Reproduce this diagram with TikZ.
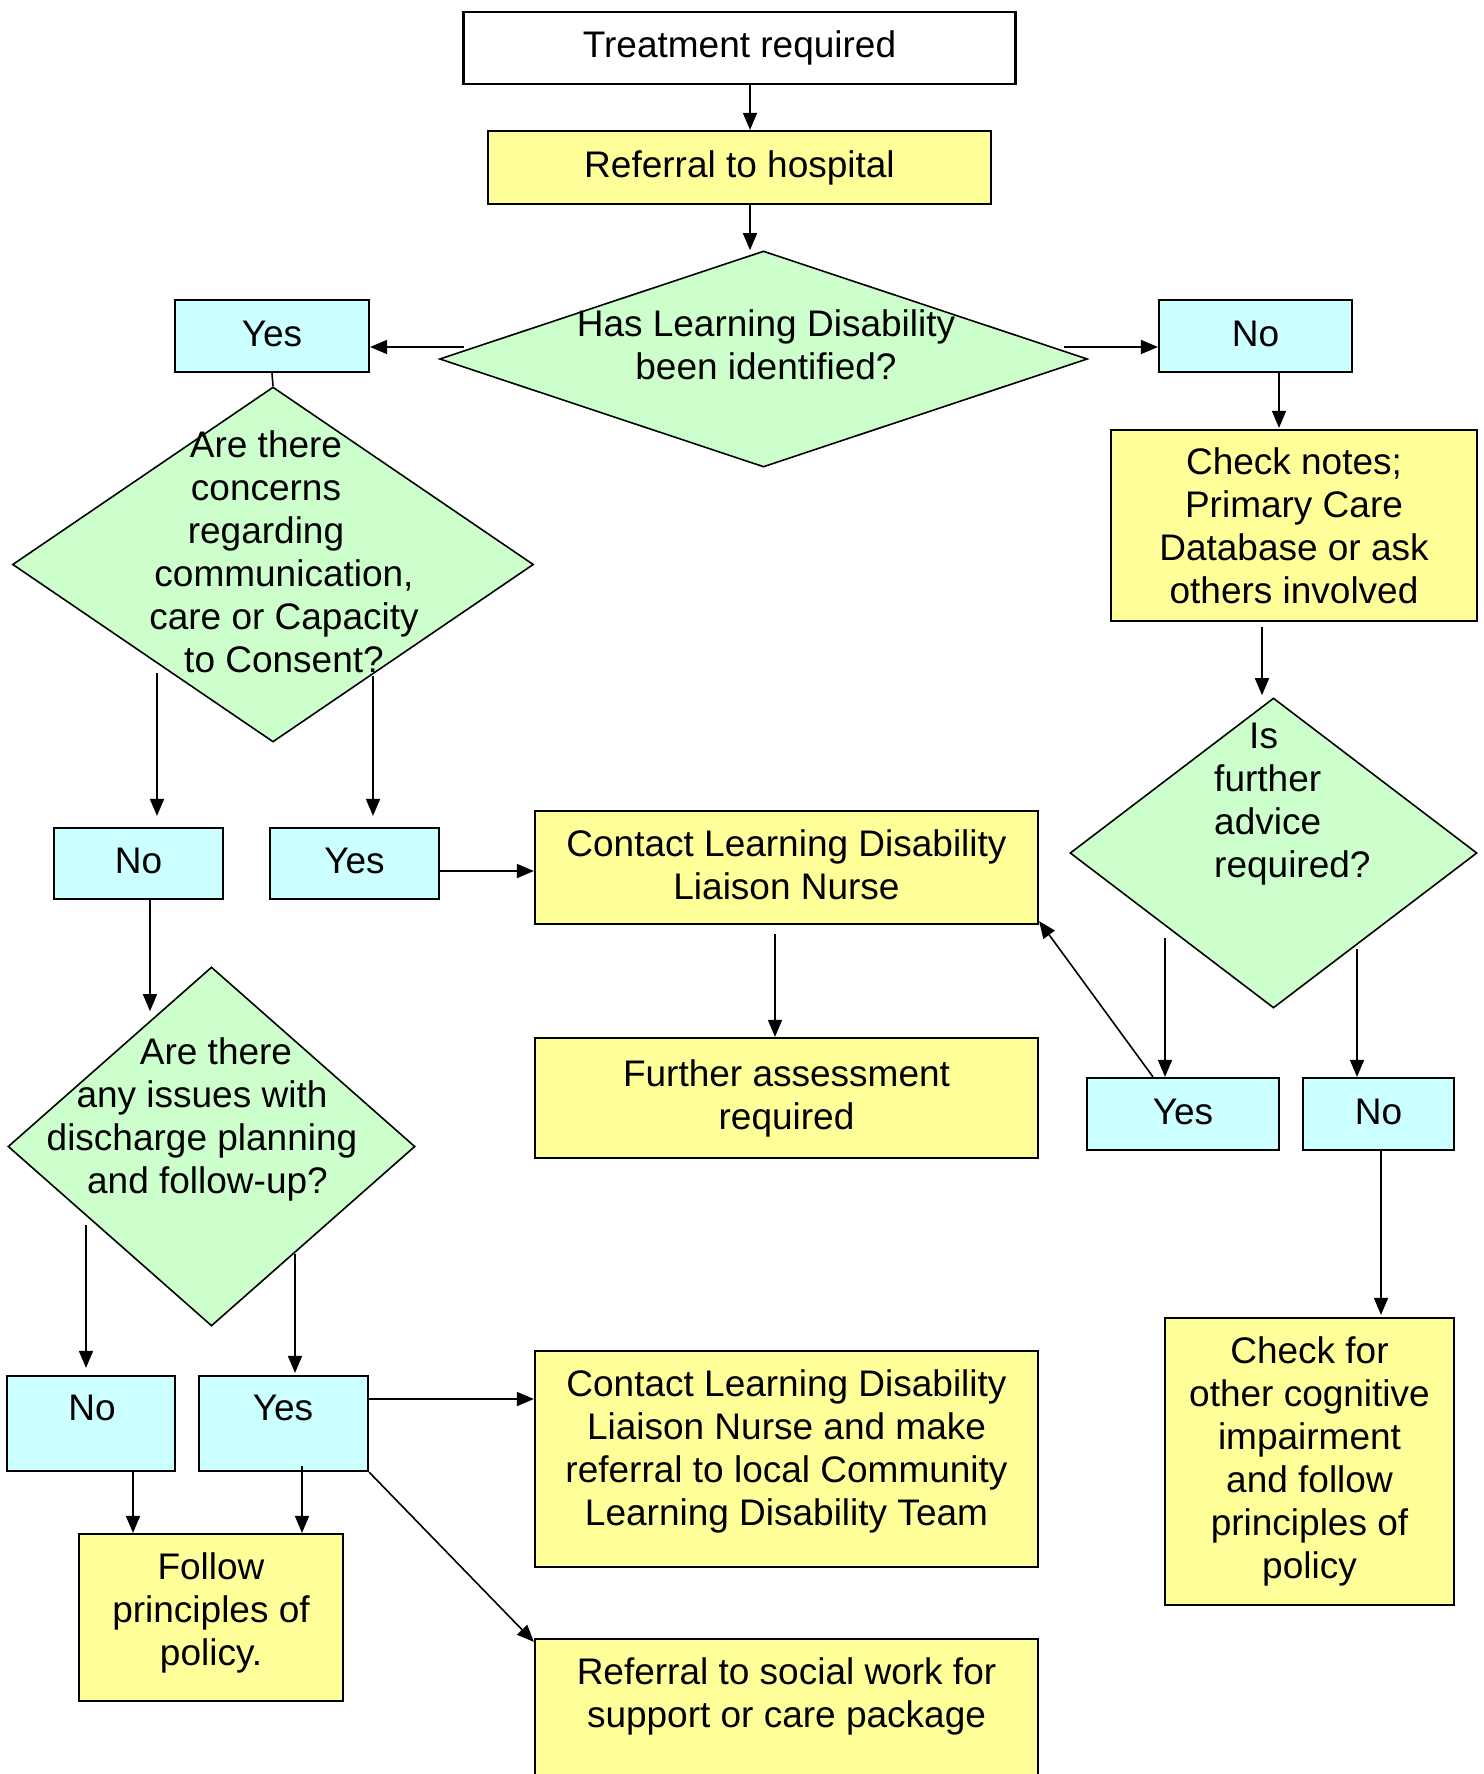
\documentclass[tikz,border=0pt]{standalone}
\usepackage{fontspec}
\setmainfont{Liberation Sans}
\usetikzlibrary{shapes.geometric,arrows.meta,calc}
\definecolor{boxyellow}{HTML}{FFFF99}
\definecolor{boxcyan}{HTML}{CCFFFF}
\definecolor{boxgreen}{HTML}{CCFFCC}
\begin{document}
\begin{tikzpicture}[x=1pt,y=-1pt,
  font=\fontsize{37}{43}\selectfont,
  boxbase/.style={rectangle, draw, line width=2.2pt, inner sep=0pt, align=center},
  startbox/.style={boxbase, fill=white},
  action/.style={boxbase, fill=boxyellow},
  answer/.style={boxbase, fill=boxcyan, text height=27pt, text depth=7pt},
  decision/.style={diamond, draw, line width=1.6pt, fill=boxgreen, inner sep=0pt},
  wording/.style={inner sep=0pt, align=center},
  arr/.style={-{Triangle[length=17pt,width=14pt]}, line width=1.6pt},
  joinline/.style={line width=1.6pt}]

\useasboundingbox (0,0) rectangle (1483,1774);
\clip (0,0) rectangle (1483,1774);

% top of the flow
\node[startbox, minimum width=552pt, minimum height=72pt] (treat) at (739.5,48) {Treatment required};
\node[action, minimum width=503pt, minimum height=73pt] (refer) at (739.5,167.5) {Referral to hospital};
\node[decision, minimum width=648pt, minimum height=216pt] (d1) at (763.5,359) {};
\node[wording] (q1) at (766,345) {Has Learning Disability\\been identified?};
\node[answer, minimum width=194pt, minimum height=72pt] (yes1) at (272,336) {Yes};
\node[answer, minimum width=193pt, minimum height=72pt] (no1) at (1255.5,336) {No};

% left branch: concerns
\node[decision, minimum width=521pt, minimum height=355pt] (d2) at (273,564.5) {};
\node[wording] (q2) at (284,552) {Are there\hbox to 36pt{}\\concerns\hbox to 36pt{}\\regarding\hbox to 36pt{}\\communication,\\care or Capacity\\to Consent?};
\node[answer, minimum width=169pt, minimum height=71pt] (no2) at (138.5,863.5) {No};
\node[answer, minimum width=169pt, minimum height=71pt] (yes2) at (354.5,863.5) {Yes};
\node[action, minimum width=503pt, minimum height=113pt] (contact1) at (786.5,867.5) {};
\node[wording] (contact1t) at (786.5,865) {Contact Learning Disability\\Liaison Nurse};
\node[action, minimum width=503pt, minimum height=120pt] (further) at (786.5,1098) {Further assessment\\required};

% left branch: discharge planning
\node[decision, minimum width=407pt, minimum height=359pt] (d3) at (211.5,1146.5) {};
\node[wording] (q3) at (202,1119) {\hbox to 28pt{}Are there\\any issues with\\discharge planning\\\hbox to 11pt{}and follow-up?};
\node[answer, minimum width=168pt, minimum height=95pt] (no3) at (91,1423.5) {};
\node[wording] (no3t) at (92,1408) {No};
\node[answer, minimum width=169pt, minimum height=95pt] (yes3) at (283.5,1423.5) {};
\node[wording] (yes3t) at (283,1408) {Yes};
\node[action, minimum width=264pt, minimum height=167pt] (follow) at (211,1617.5) {};
\node[wording] (followt) at (211,1613) {Follow\\principles of\\policy.};
\node[action, minimum width=503pt, minimum height=216pt] (contact2) at (786.5,1459) {};
\node[wording] (contact2t) at (786.5,1451) {Contact Learning Disability\\Liaison Nurse and make\\referral to local Community\\Learning Disability Team};
\node[action, minimum width=503pt, minimum height=216pt] (social) at (786.5,1747) {};
\node[wording] (socialt) at (786.5,1696) {Referral to social work for\\support or care package};

% right branch
\node[action, minimum width=366pt, minimum height=191pt] (checknotes) at (1294,525.5) {Check notes;\\Primary Care\\Database or ask\\others involved};
\node[decision, minimum width=407pt, minimum height=310pt] (d4) at (1273.5,853) {};
\node[wording, anchor=west, align=left] (q4) at (1214,804) {\hbox to 35pt{}Is\\further\\advice\\required?};
\node[answer, minimum width=192pt, minimum height=72pt] (yes4) at (1183,1114) {Yes};
\node[answer, minimum width=151pt, minimum height=72pt] (no4) at (1378.5,1114) {No};
\node[action, minimum width=289pt, minimum height=287pt] (checkother) at (1309.5,1461.5) {Check for\\other cognitive\\impairment\\and follow\\principles of\\policy};

% connectors
\draw[arr] ($(treat.south)+(10.5,0)$) -- ($(refer.north)+(10.5,0)$);
\draw[arr] ($(refer.south)+(10.5,0)$) -- ($(d1.north)+(-13.5,0)$);
\draw[arr] ($(d1.west)+(25,-12)$) -- ($(yes1.east)+(0,11)$);
\draw[arr] ($(d1.east)+(-24,-12)$) -- ($(no1.west)+(0,11)$);
\draw[joinline] (yes1.south) -- (d2.north);
\draw[arr] ($(d2.south)+(-116,-70)$) -- ($(no2.north)+(18.5,-11)$);
\draw[arr] ($(d2.south)+(100,-67)$) -- ($(yes2.north)+(18.5,-11)$);
\draw[arr] ($(yes2.east)+(0,7.5)$) -- ($(contact1.west)+(0,3.5)$);
\draw[arr] ($(contact1.south)+(-11.5,9)$) -- ($(further.north)+(-11.5,0)$);
\draw[arr] ($(no2.south)+(11.5,0)$) -- ($(d3.north)+(-61.5,45)$);
\draw[arr] ($(d3.south)+(-125.5,-102)$) -- ($(no3.north)+(-5,-7)$);
\draw[arr] ($(d3.south)+(83.5,-73)$) -- ($(yes3.north)+(11.5,-2)$);
\draw[arr] ($(yes3.east)+(0,-24.5)$) -- ($(contact2.west)+(0,-60)$);
\draw[arr] (yes3.south east) -- ($(social.north west)+(0,4)$);
\draw[arr] ($(no3.south)+(42,0)$) -- ($(follow.north)+(-78,0)$);
\draw[arr] ($(yes3.south)+(18.5,-6)$) -- ($(follow.north)+(91,0)$);
\draw[arr] ($(no1.south)+(23.5,0)$) -- ($(checknotes.north)+(-15,-1)$);
\draw[arr] ($(checknotes.south)+(-32,5)$) -- ($(d4.north)+(-11.5,-2)$);
\draw[arr] ($(d4.south)+(-108.5,-71)$) -- ($(yes4.north)+(-18,0)$);
\draw[arr] ($(d4.south)+(83.5,-60)$) -- ($(no4.north)+(-21.5,0)$);
\draw[arr] ($(yes4.north)+(-30,0)$) -- ($(contact1.south east)+(0,-4)$);
\draw[arr] ($(no4.south)+(2.5,0)$) -- ($(checkother.north)+(71.5,-2)$);
\end{tikzpicture}
\end{document}
